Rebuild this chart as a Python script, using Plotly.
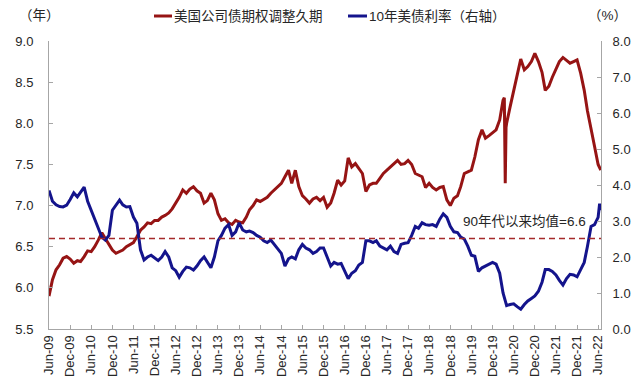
import pandas as pd
import plotly.graph_objects as go

# ---------------- data ----------------
tick_labels = ["Jun-09", "Dec-09", "Jun-10", "Dec-10", "Jun-11", "Dec-11", "Jun-12", "Dec-12",
               "Jun-13", "Dec-13", "Jun-14", "Dec-14", "Jun-15", "Dec-15", "Jun-16", "Dec-16",
               "Jun-17", "Dec-17", "Jun-18", "Dec-18", "Jun-19", "Dec-19", "Jun-20", "Dec-20",
               "Jun-21", "Dec-21", "Jun-22"]
tick_dates = pd.date_range("2009-06-01", "2022-06-01", freq="6MS")

months = pd.date_range("2009-06-01", periods=157, freq="MS")

# US corporate bond option-adjusted duration (years, left axis), monthly
oad = [
    5.90, 6.10, 6.22, 6.28, 6.36, 6.38, 6.35, 6.30, 6.33, 6.32, 6.38, 6.45,   # Jun09-May10
    6.44, 6.50, 6.58, 6.67, 6.60, 6.52, 6.46, 6.42, 6.44, 6.46, 6.50, 6.52,   # Jun10-May11
    6.55, 6.62, 6.70, 6.74, 6.79, 6.78, 6.82, 6.82, 6.86, 6.88, 6.91, 6.96,   # Jun11-May12
    7.03, 7.10, 7.19, 7.15, 7.20, 7.23, 7.18, 7.15, 7.03, 7.06, 7.15, 7.07,   # Jun12-May13
    6.90, 6.82, 6.84, 6.79, 6.77, 6.82, 6.80, 6.79, 6.86, 6.95, 7.00, 7.07,   # Jun13-May14
    7.05, 7.08, 7.10, 7.15, 7.19, 7.22, 7.27, 7.35, 7.43, 7.27, 7.43, 7.23,   # Jun14-May15
    7.12, 7.08, 7.03, 7.08, 7.10, 7.06, 7.10, 6.98, 7.03, 7.15, 7.31, 7.25,   # Jun15-May16
    7.30, 7.58, 7.47, 7.51, 7.45, 7.39, 7.17, 7.25, 7.27, 7.27, 7.33, 7.39,   # Jun16-May17
    7.43, 7.47, 7.52, 7.55, 7.50, 7.51, 7.55, 7.50, 7.39, 7.37, 7.35, 7.22,   # Jun17-May18
    7.27, 7.22, 7.19, 7.22, 7.23, 7.07, 7.00, 7.09, 7.12, 7.23, 7.39, 7.41,   # Jun18-May19
    7.43, 7.59, 7.80, 7.92, 7.82, 7.85, 7.88, 7.92, 8.04, 8.28, 8.00, 8.20,   # Jun19-May20
    8.40, 8.61, 8.78, 8.65, 8.69, 8.75, 8.85, 8.75, 8.62, 8.40, 8.45, 8.56,   # Jun20-May21
    8.65, 8.75, 8.80, 8.77, 8.73, 8.75, 8.77, 8.61, 8.40, 8.15, 7.95, 7.72,   # Jun21-May22
    7.50,                                                                     # Jun22
]
oad_extra_dates = ["2020-03-12", "2020-03-20", "2020-03-27", "2022-06-24"]
oad_extra = [8.31, 7.27, 7.95, 7.43]

# US 10Y Treasury yield (%, right axis), monthly
ust10 = [
    3.85, 3.55, 3.45, 3.40, 3.39, 3.44, 3.60, 3.78, 3.67, 3.80, 3.94, 3.55,   # Jun09-May10
    3.30, 3.03, 2.80, 2.55, 2.47, 2.60, 3.30, 3.45, 3.58, 3.45, 3.39, 3.40,   # Jun10-May11
    3.11, 2.94, 2.20, 1.92, 2.00, 2.05, 1.97, 1.90, 2.00, 2.15, 2.00, 1.70,   # Jun11-May12
    1.62, 1.44, 1.60, 1.72, 1.70, 1.64, 1.75, 1.90, 2.00, 1.85, 1.70, 2.00,   # Jun12-May13
    2.45, 2.60, 2.80, 2.90, 2.60, 2.70, 2.95, 2.75, 2.70, 2.72, 2.68, 2.60,   # Jun13-May14
    2.55, 2.45, 2.40, 2.47, 2.35, 2.25, 2.10, 1.75, 1.95, 2.00, 1.95, 2.20,   # Jun14-May15
    2.35, 2.25, 2.20, 2.10, 2.15, 2.25, 2.25, 2.00, 1.75, 1.85, 1.80, 1.82,   # Jun15-May16
    1.60, 1.40, 1.55, 1.62, 1.78, 1.85, 2.45, 2.45, 2.40, 2.45, 2.30, 2.25,   # Jun16-May17
    2.20, 2.30, 2.15, 2.10, 2.35, 2.38, 2.40, 2.60, 2.85, 2.80, 2.95, 2.90,   # Jun17-May18
    2.88, 2.90, 2.85, 3.05, 3.20, 3.10, 2.85, 2.70, 2.68, 2.55, 2.50, 2.30,   # Jun18-May19
    2.05, 2.02, 1.60, 1.70, 1.75, 1.80, 1.85, 1.80, 1.55, 1.00, 0.65, 0.68,   # Jun19-May20
    0.70, 0.62, 0.55, 0.68, 0.78, 0.85, 0.92, 1.05, 1.30, 1.65, 1.65, 1.60,   # Jun20-May21
    1.50, 1.35, 1.22, 1.40, 1.52, 1.50, 1.45, 1.65, 1.85, 2.30, 2.85, 2.90,   # Jun21-May22
    3.10,                                                                     # Jun22
]
ust10_extra_dates = ["2022-06-14", "2022-06-24"]
ust10_extra = [3.48, 3.30]

mean_oad = 6.6

series_names = ["美国公司债期权调整久期", "10年美债利率（右轴）"]
mean_label = "90年代以来均值=6.6"

# ---------------- build ----------------
red = "#961414"
blue = "#14148C"
axis_col = "#A6A6A6"
text_col = "#262626"
FONT = "Arial, Liberation Sans, Noto Sans CJK SC, sans-serif"

s_oad = pd.concat([pd.Series(oad, index=months),
                   pd.Series(oad_extra, index=pd.to_datetime(oad_extra_dates))]).sort_index()
s_ust = pd.concat([pd.Series(ust10, index=months),
                   pd.Series(ust10_extra, index=pd.to_datetime(ust10_extra_dates))]).sort_index()

fig = go.Figure()
fig.add_trace(go.Scatter(x=s_oad.index, y=s_oad.values, mode="lines", name=series_names[0],
                         line=dict(color=red, width=3), yaxis="y"))
fig.add_trace(go.Scatter(x=s_ust.index, y=s_ust.values, mode="lines", name=series_names[1],
                         line=dict(color=blue, width=3), yaxis="y2"))

L, R, T, B = 49, 39, 41, 56
W, H = 640, 385
pw, ph = W - L - R, H - T - B


def px(x):
    return (x - L) / pw


def py(y):
    return (H - B - y) / ph


shapes = [
    dict(type="line", xref="paper", yref="y", x0=0, x1=1, y0=mean_oad, y1=mean_oad,
         line=dict(color="#A52A2A", width=1.5, dash="6px,4px")),
    dict(type="line", xref="paper", yref="paper", x0=px(154), x1=px(172), y0=py(16), y1=py(16),
         line=dict(color=red, width=3)),
    dict(type="line", xref="paper", yref="paper", x0=px(348), x1=px(367), y0=py(16), y1=py(16),
         line=dict(color=blue, width=3)),
]

annotations = [
    dict(text=series_names[0], xref="paper", yref="paper", x=px(172), y=py(16),
         xanchor="left", yanchor="middle", showarrow=False,
         font=dict(family=FONT, size=13.5, color=text_col)),
    dict(text=series_names[1], xref="paper", yref="paper", x=px(367), y=py(16),
         xanchor="left", yanchor="middle", showarrow=False,
         font=dict(family=FONT, size=13.5, color=text_col)),
    dict(text="（年）", xref="paper", yref="paper", x=px(39), y=py(15),
         xanchor="center", yanchor="middle", showarrow=False,
         font=dict(family=FONT, size=13.5, color=text_col)),
    dict(text="（%）", xref="paper", yref="paper", x=px(607), y=py(15),
         xanchor="center", yanchor="middle", showarrow=False,
         font=dict(family=FONT, size=13.5, color=text_col)),
    dict(text=mean_label, xref="paper", yref="paper", x=px(524), y=py(221),
         xanchor="center", yanchor="middle", showarrow=False,
         font=dict(family=FONT, size=13.5, color=text_col)),
]

fig.update_layout(
    width=W, height=H,
    margin=dict(l=L, r=R, t=T, b=B, pad=0, autoexpand=False),
    paper_bgcolor="white", plot_bgcolor="white",
    showlegend=False,
    font=dict(family=FONT, size=13, color=text_col),
    shapes=shapes, annotations=annotations,
    xaxis=dict(
        type="date", range=["2009-06-01", "2022-06-26"], automargin=False,
        tickmode="array", tickvals=list(tick_dates), ticktext=tick_labels,
        tickangle=-90, ticks="inside", ticklen=4, tickcolor=axis_col,
        showline=True, linecolor=axis_col, linewidth=1, showgrid=False, zeroline=False,
        tickfont=dict(family=FONT, size=13, color=text_col),
    ),
    yaxis=dict(
        range=[5.5, 9.0], dtick=0.5, tick0=5.5, tickformat=".1f", automargin=False,
        ticks="inside", ticklen=4, tickcolor=axis_col,
        showline=True, linecolor=axis_col, linewidth=1, showgrid=False, zeroline=False,
        tickfont=dict(family=FONT, size=13, color=text_col), ticklabelstandoff=12,
    ),
    yaxis2=dict(
        range=[0, 8], dtick=1, tick0=0, tickformat=".1f", overlaying="y", side="right",
        automargin=False,
        ticks="inside", ticklen=4, tickcolor=axis_col,
        showline=True, linecolor=axis_col, linewidth=1, showgrid=False, zeroline=False,
        tickfont=dict(family=FONT, size=13, color=text_col), ticklabelstandoff=8,
    ),
)

fig.write_html("out.html", config={"displayModeBar": False},
               post_script="document.body.style.margin='0';document.body.style.padding='0';")
